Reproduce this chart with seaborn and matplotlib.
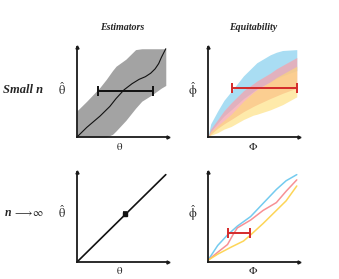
import numpy as np
import pandas as pd
import matplotlib
matplotlib.use("Agg")
import matplotlib.pyplot as plt
import seaborn as sns

# ---- data (axes fractions) ----
# top-left: estimator curve and its spread
est_x = [0.0, 0.11, 0.26, 0.37, 0.44, 0.53, 0.62, 0.70, 0.77, 0.83, 0.88, 0.92, 0.95, 0.98, 1.0]
est_y = [0.0, 0.11, 0.24, 0.35, 0.44, 0.54, 0.61, 0.66, 0.69, 0.73, 0.78, 0.84, 0.91, 0.97, 1.01]
band_x = [0.0, 0.11, 0.26, 0.33, 0.40, 0.44, 0.55, 0.66, 0.73, 0.84, 0.95, 1.0]
band_lo = [0.0, 0.0, 0.0, 0.0, 0.03, 0.07, 0.19, 0.33, 0.41, 0.48, 0.56, 0.59]
band_hi = [0.30, 0.41, 0.57, 0.66, 0.76, 0.81, 0.89, 1.0, 1.01, 1.01, 1.01, 1.01]
est_err_y = 0.53
est_err_x = (0.24, 0.86)

# top-right: equitability bands for three relationships
eq_x = [0.0, 0.03, 0.11, 0.18, 0.26, 0.40, 0.51, 0.55, 0.70, 0.77, 0.84, 1.0]
blue_lo = [0.0, 0.06, 0.16, 0.24, 0.31, 0.44, 0.52, 0.55, 0.63, 0.67, 0.70, 0.76]
blue_hi = [0.0, 0.15, 0.30, 0.42, 0.52, 0.70, 0.81, 0.85, 0.94, 0.97, 0.99, 1.0]
pink_lo = [0.0, 0.03, 0.10, 0.15, 0.20, 0.29, 0.35, 0.37, 0.44, 0.47, 0.50, 0.56]
pink_hi = [0.0, 0.09, 0.20, 0.30, 0.39, 0.53, 0.61, 0.64, 0.73, 0.78, 0.82, 0.91]
yel_lo = [0.0, 0.02, 0.05, 0.09, 0.12, 0.20, 0.25, 0.26, 0.31, 0.34, 0.37, 0.46]
yel_hi = [0.0, 0.06, 0.13, 0.19, 0.26, 0.41, 0.51, 0.54, 0.63, 0.68, 0.72, 0.81]
eq_err_y = 0.56
eq_err_x = (0.27, 1.0)

# bottom-left: consistent estimator
lim_x = [0.0, 1.0]
lim_y = [0.0, 1.0]
lim_point = (0.545, 0.545)

# bottom-right: three curves in the limit
crv_blue_x = [0.0, 0.11, 0.22, 0.33, 0.48, 0.62, 0.77, 0.88, 1.0]
crv_blue_y = [0.02, 0.19, 0.31, 0.41, 0.52, 0.67, 0.83, 0.93, 1.0]
crv_pink_x = [0.0, 0.12, 0.22, 0.28, 0.33, 0.48, 0.62, 0.77, 0.88, 1.0]
crv_pink_y = [0.02, 0.12, 0.20, 0.31, 0.39, 0.48, 0.59, 0.68, 0.81, 0.94]
crv_yel_x = [0.0, 0.11, 0.26, 0.40, 0.48, 0.62, 0.77, 0.88, 1.0]
crv_yel_y = [0.02, 0.09, 0.17, 0.24, 0.31, 0.44, 0.59, 0.70, 0.87]
crv_err_y = 0.33
crv_err_x = (0.23, 0.47)

row_labels = ["Small n", "n"]
col_titles = ["Estimators", "Equitability"]

BLUE = "#9ad8f1"
PINK = "#f5a3ad"
YELLOW = "#fedc72"
RED = "#d42a2a"
AXC = "#1a1a1a"

sns.set_style("white")
plt.rcParams["font.family"] = ["Liberation Serif", "DejaVu Serif"]
plt.rcParams["mathtext.fontset"] = "stix"

fig = plt.figure(figsize=(3.39, 2.79), dpi=100)
W, H = 339, 279


def make_ax(x0, y_top):
    # pixel box -> figure fraction
    ax = fig.add_axes([x0 / W, 1 - (y_top + 90) / H, 91 / W, 90 / H])
    ax.set_xlim(0, 1.025)
    ax.set_ylim(0, 1.03)
    for s in ["top", "right"]:
        ax.spines[s].set_visible(False)
    for s in ["left", "bottom"]:
        ax.spines[s].set_linewidth(1.3)
        ax.spines[s].set_color(AXC)
    ax.set_xticks([])
    ax.set_yticks([])
    ax.plot(1, 0, marker=">", color=AXC, ms=2.2,
            transform=ax.get_yaxis_transform(), clip_on=False)
    ax.plot(0, 1, marker="^", color=AXC, ms=2.2,
            transform=ax.get_xaxis_transform(), clip_on=False)
    ax.patch.set_alpha(0)
    return ax


def hbar(ax, xs, y, color, lw=1.4, cap=3.5):
    mid = (xs[0] + xs[1]) / 2
    ax.errorbar([mid], [y], xerr=[(xs[1] - xs[0]) / 2], color=color,
                lw=lw, capsize=cap, capthick=lw, fmt="none", zorder=5,
                clip_on=False)


# top-left
ax1 = make_ax(77, 47)
ax1.fill_between(band_x, band_lo, band_hi, color="#a3a3a3", lw=0)
sns.lineplot(x=est_x, y=est_y, ax=ax1, color="#111111", lw=0.8, sort=False)
hbar(ax1, est_err_x, est_err_y, "#111111")

# top-right
ax2 = make_ax(208, 47)
ax2.fill_between(eq_x, blue_lo, blue_hi, color=BLUE, alpha=0.85, lw=0)
ax2.fill_between(eq_x, pink_lo, pink_hi, color=PINK, alpha=0.75, lw=0)
ax2.fill_between(eq_x, yel_lo, yel_hi, color=YELLOW, alpha=0.6, lw=0)
hbar(ax2, eq_err_x, eq_err_y, RED)

# bottom-left
ax3 = make_ax(77, 172)
sns.lineplot(x=lim_x, y=lim_y, ax=ax3, color="#111111", lw=1.2)
ax3.errorbar([lim_point[0]], [lim_point[1]], xerr=[0.012], color="#111111",
             lw=1.2, capsize=2, capthick=1.2, fmt="s", ms=2.5, zorder=5)

# bottom-right
ax4 = make_ax(208, 172)
curves = pd.DataFrame({
    "x": crv_blue_x + crv_pink_x + crv_yel_x,
    "y": crv_blue_y + crv_pink_y + crv_yel_y,
    "rel": ["b"] * len(crv_blue_x) + ["p"] * len(crv_pink_x) + ["y"] * len(crv_yel_x),
})
sns.lineplot(data=curves, x="x", y="y", hue="rel", sort=False, ax=ax4,
             palette={"b": "#74cbef", "p": "#f79195", "y": "#fdd557"},
             lw=1.1, legend=False)
hbar(ax4, crv_err_x, crv_err_y, RED)

for ax in (ax1, ax2, ax3, ax4):
    ax.set_xlabel("")
    ax.set_ylabel("")

# titles and labels
fig.text(122 / W, 1 - 27 / H, col_titles[0], ha="center", va="center",
         fontsize=7.2, fontweight="bold", style="italic")
fig.text(253 / W, 1 - 27 / H, col_titles[1], ha="center", va="center",
         fontsize=7.2, fontweight="bold", style="italic")
fig.text(23 / W, 1 - 90 / H, row_labels[0], ha="center", va="center",
         fontsize=9, fontweight="bold", style="italic")
fig.text(5 / W, 1 - 213 / H, row_labels[1], ha="left", va="center",
         fontsize=8.5, fontweight="bold", style="italic")
fig.text(13 / W, 1 - 213 / H, r"$\longrightarrow\!\infty$", ha="left", va="center",
         fontsize=8)

for yc in (90, 213):
    fig.text(62 / W, 1 - yc / H, r"$\hat{\mathrm{\theta}}$", ha="center", va="center", fontsize=9)
    fig.text(193 / W, 1 - yc / H, r"$\hat{\mathrm{\phi}}$", ha="center", va="center", fontsize=9)
for yc in (147, 271):
    fig.text(120 / W, 1 - yc / H, r"$\mathrm{\theta}$", ha="center", va="center", fontsize=8)
    fig.text(253 / W, 1 - yc / H, r"$\Phi$", ha="center", va="center", fontsize=8)

fig.savefig("out.png", dpi=100)
